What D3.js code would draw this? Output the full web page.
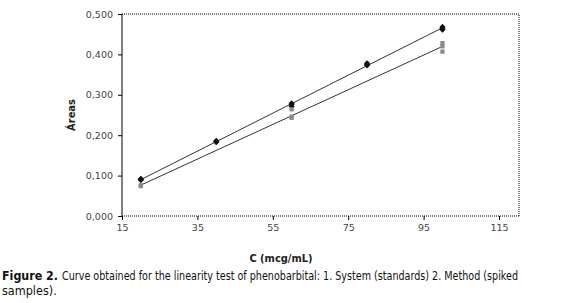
<!DOCTYPE html>
<html>
<head>
<meta charset="utf-8">
<script src="https://cdn.jsdelivr.net/npm/d3@7"></script>
<style>
  body { margin: 0; background: #fff; }
  svg { display: block; }
  .tick text { font-family: 'DejaVu Sans', Verdana, sans-serif; font-size: 9.5px; fill: #444; }
  .tick line { stroke: #000; }
</style>
</head>
<body>
<svg width="577" height="303"></svg>
<script>
// concentrations (mcg/mL) and replicate areas
const systemX = [20, 20, 20, 40, 40, 40, 60, 60, 60, 80, 80, 80, 100, 100, 100]
const systemY = [0.089, 0.092, 0.090, 0.184, 0.186, 0.183, 0.271, 0.276, 0.279, 0.373, 0.378, 0.375, 0.461, 0.465, 0.468]
const methodX = [20, 20, 20, 60, 60, 60, 100, 100, 100]
const methodY = [0.074, 0.076, 0.075, 0.264, 0.246, 0.243, 0.428, 0.420, 0.407]
const xTicks = [15, 35, 55, 75, 95, 115]
const yTicks = [0, 0.1, 0.2, 0.3, 0.4, 0.5]

const svg = d3.select('svg')
const margin = { top: 14, right: 58, bottom: 87, left: 122 }
const width = +svg.attr('width')
const height = +svg.attr('height')
const innerWidth = width - margin.left - margin.right
const innerHeight = height - margin.top - margin.bottom

const xScale = d3.scaleLinear().domain([15, 120.3]).range([0, innerWidth])
const yScale = d3.scaleLinear().domain([0, 0.5]).range([innerHeight, 0])

const g = svg.append('g')
  .attr('transform', `translate(${margin.left}, ${margin.top})`)

// plot border (top/right dotted)
g.append('path')
  .attr('d', `M0,0H${innerWidth}V${innerHeight}`)
  .attr('fill', 'none')
  .attr('stroke', '#000')
  .attr('stroke-dasharray', '1,1')

const yFmt = d => d3.format('.3f')(d).replace('.', ',')
const yAxisG = g.append('g')
  .call(d3.axisLeft(yScale).tickValues(yTicks).tickFormat(yFmt).tickSize(4).tickPadding(5))
yAxisG.select('.domain').attr('stroke', '#000').attr('d', `M0,0V${innerHeight}`)

const xAxisG = g.append('g')
  .attr('transform', `translate(0, ${innerHeight})`)
  .call(d3.axisBottom(xScale).tickValues(xTicks).tickSize(4).tickPadding(4))
xAxisG.select('.domain').attr('stroke', '#000').attr('stroke-dasharray', '1,1')
  .attr('d', `M0,0H${innerWidth}`)

const fit = (xs, ys) => {
  const mx = d3.mean(xs), my = d3.mean(ys)
  const b = d3.sum(xs, (x, i) => (x - mx) * (ys[i] - my)) / d3.sum(xs, x => (x - mx) ** 2)
  return x => my + b * (x - mx)
}

const line = d3.line().x(d => xScale(d[0])).y(d => yScale(d[1]))
const series = [
  { xs: systemX, ys: systemY, sym: d3.symbolDiamond2 || d3.symbolDiamond, size: 24, fill: '#111' },
  { xs: methodX, ys: methodY, sym: d3.symbolSquare, size: 18, fill: '#8a8a8a' }
]
series.forEach(s => {
  const f = fit(s.xs, s.ys)
  const x0 = d3.min(s.xs), x1 = d3.max(s.xs)
  g.append('path')
    .attr('d', line([[x0, f(x0)], [x1, f(x1)]]))
    .attr('stroke', '#333')
    .attr('stroke-width', 1)
    .attr('fill', 'none')
  g.selectAll(null).data(s.xs.map((x, i) => [x, s.ys[i]])).enter()
    .append('path')
    .attr('d', d3.symbol().type(s.sym).size(s.size))
    .attr('transform', d => `translate(${xScale(d[0])}, ${yScale(d[1])})`)
    .attr('fill', s.fill)
})

// axis titles
const capFont = "'Liberation Sans Narrow', 'DejaVu Sans Condensed', sans-serif"
svg.append('text')
  .attr('transform', `translate(75, ${margin.top + innerHeight / 2}) rotate(-90)`)
  .attr('text-anchor', 'middle')
  .style('font-family', capFont)
  .style('font-weight', 'bold')
  .style('font-size', '11px')
  .attr('fill', '#222')
  .text('Áreas')

svg.append('text')
  .attr('x', 281).attr('y', 262)
  .attr('text-anchor', 'middle')
  .style('font-family', capFont)
  .style('font-weight', 'bold')
  .style('font-size', '11px')
  .attr('fill', '#222')
  .text('C (mcg/mL)')

// caption
svg.append('text')
  .attr('x', 2).attr('y', 280)
  .style('font-family', capFont).style('font-size', '12.5px').style('font-weight', 'bold')
  .attr('fill', '#111')
  .attr('textLength', 56).attr('lengthAdjust', 'spacingAndGlyphs')
  .text('Figure 2.')
svg.append('text')
  .attr('x', 62).attr('y', 280)
  .style('font-family', capFont).style('font-size', '12.5px')
  .attr('fill', '#111')
  .attr('textLength', 456).attr('lengthAdjust', 'spacingAndGlyphs')
  .text('Curve obtained for the linearity test of phenobarbital: 1. System (standards) 2. Method (spiked')
svg.append('text')
  .attr('x', 2).attr('y', 295)
  .style('font-family', capFont).style('font-size', '12.5px')
  .attr('fill', '#111')
  .text('samples).')
</script>
</body>
</html>
